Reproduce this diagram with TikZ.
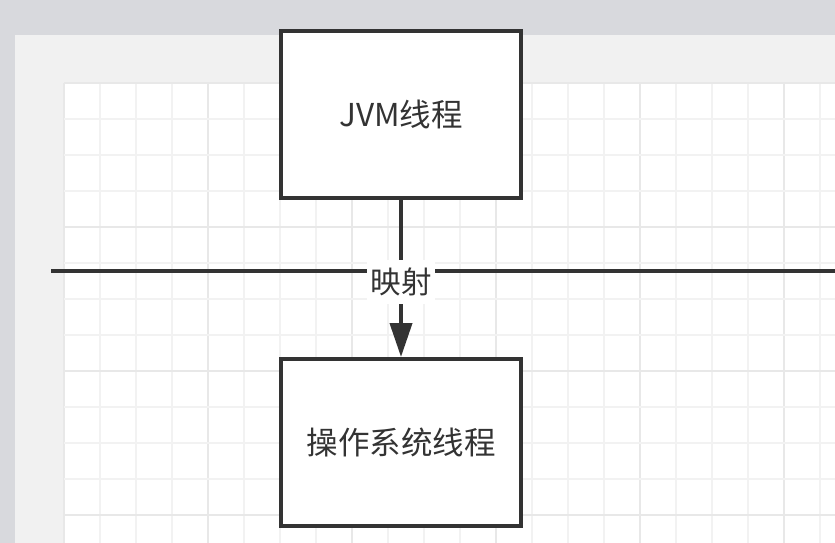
\documentclass[tikz,border=0pt]{standalone}
\usepackage{fontspec}
\newfontfamily\cjk{Noto Sans CJK SC}
\usetikzlibrary{arrows.meta}
\definecolor{bgtex}{HTML}{D8D9DD}
\definecolor{panel}{HTML}{F1F1F1}
\definecolor{gridminor}{HTML}{F2F2F2}
\definecolor{gridmajor}{HTML}{E8E8E8}
\definecolor{ink}{HTML}{333333}
\begin{document}
\begin{tikzpicture}[x=1pt,y=-1pt,
  procbox/.style={draw=ink, line width=4pt, fill=white, minimum width=240pt,
    minimum height=167pt, inner sep=0pt, font=\cjk\fontsize{31.5}{38}\selectfont, text=ink},
  link/.style={draw=ink, line width=4pt},
  lbl/.style={fill=white, inner sep=0pt, minimum width=68pt, minimum height=44pt,
    font=\cjk\fontsize{30.5}{36}\selectfont, text=ink},
  minorline/.style={draw=gridminor, line width=2pt},
  majorline/.style={draw=gridmajor, line width=2pt}]
\useasboundingbox (0,0) rectangle (835,543);
% background
\fill[bgtex] (0,0) rectangle (835,543);
\fill[panel] (15,35) rectangle (835,543);
\fill[white] (64,83) rectangle (835,543);
% grid
\foreach \i in {0,...,21} {
  \pgfmathsetmacro{\gx}{64+36*\i}
  \pgfmathtruncatemacro{\m}{mod(\i,4)}
  \ifnum\m=0
    \draw[majorline] (\gx,83) -- (\gx,543);
  \else
    \draw[minorline] (\gx,83) -- (\gx,543);
  \fi
}
\foreach \j in {0,...,12} {
  \pgfmathsetmacro{\gy}{83+36*\j}
  \pgfmathtruncatemacro{\m}{mod(\j,4)}
  \ifnum\m=0
    \draw[majorline] (64,\gy) -- (835,\gy);
  \else
    \draw[minorline] (64,\gy) -- (835,\gy);
  \fi
}
% boxes
\node[procbox] (jvm) at (401,114.5) {JVM线程};
\node[procbox] (os) at (401,442.5) {操作系统线程};
% horizontal divider
\coordinate (lineL) at (51,271);
\coordinate (lineR) at (835,271);
\draw[link] (lineL) -- (lineR);
% arrow with label
\draw[link, -{Triangle[length=34pt,width=22pt]}] (jvm.south) -- node[lbl, pos=0.52] (maplbl) {映射} (os.north);
\end{tikzpicture}
\end{document}
